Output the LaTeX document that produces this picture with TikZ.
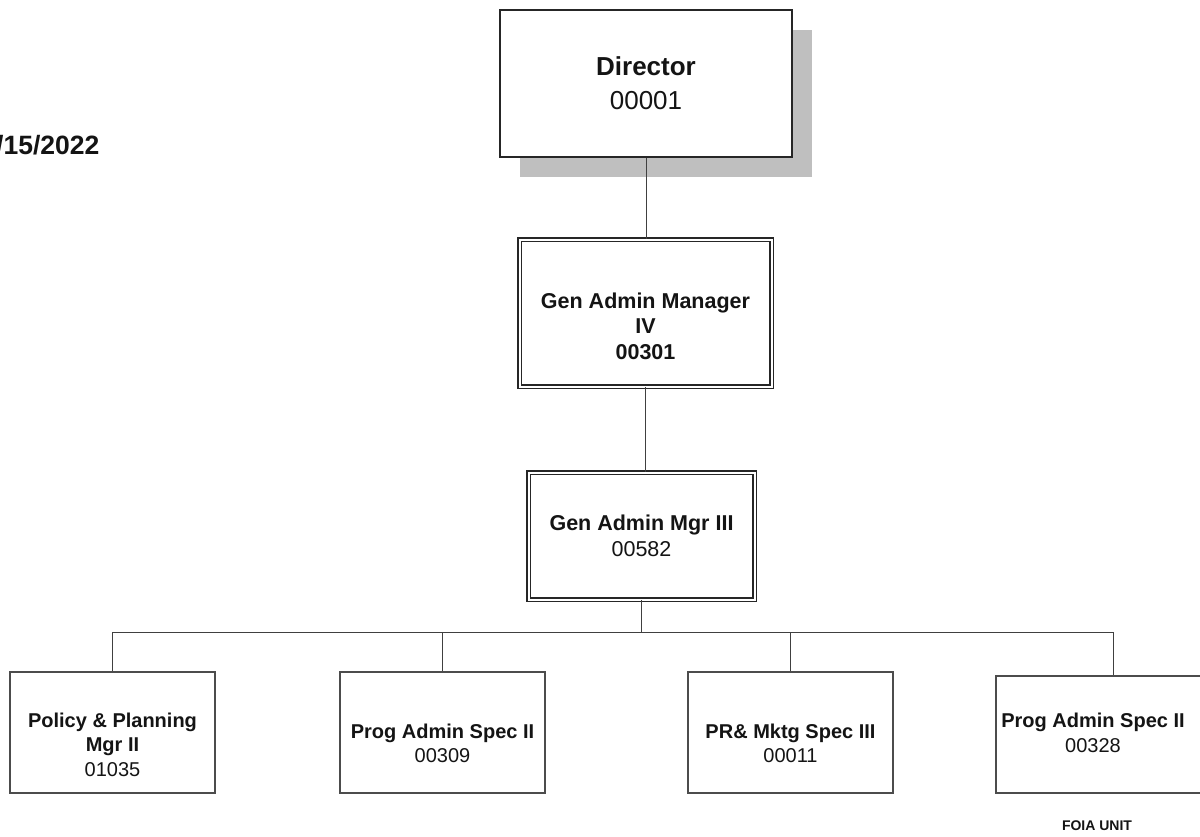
\documentclass[tikz,border=0pt]{standalone}
\usepackage{fontspec}
\setmainfont{Liberation Sans}
\begin{document}
\begin{tikzpicture}[x=1pt,y=-1pt,
  conn/.style={draw=black!75, line width=1pt},
  sbox/.style={draw=black!70, line width=1.2pt, fill=white, rectangle, inner sep=0pt},
  dbox/.style={draw=black!85, double=white, double distance=2pt, line width=1.3pt, rectangle, inner sep=0pt, fill=white},
  big/.style={font=\fontsize{26}{34}\selectfont, align=center, text=black!92},
  mid/.style={font=\fontsize{21.5}{25.5}\selectfont, align=center, text=black!92},
  sml/.style={font=\fontsize{20}{24.5}\selectfont, align=center, text=black!92},
  tiny/.style={font=\fontsize{14}{17}\selectfont\bfseries, text=black!92}
]
\useasboundingbox (0,0) rectangle (1200,836);
\fill[white] (0,0) rectangle (1200,836);

% date
\node[font=\fontsize{26.5}{30}\selectfont\bfseries, text=black!92, anchor=west, inner sep=0pt] (date) at (-4,145) {/15/2022};

% director with shadow
\fill[black!25] (520,30) rectangle (812,177);
\node[sbox, draw=black!85, minimum width=292pt, minimum height=147pt, big] (dir) at (646,83.5) {\textbf{Director}\\00001};

% gen admin manager IV
\node[dbox, minimum width=252pt, minimum height=147pt] (gam4) at (645.5,313) {};
\node[mid, font=\fontsize{21.5}{25.5}\selectfont\bfseries] (t4) at (645.5,326) {Gen Admin Manager\\IV\\00301};

% gen admin mgr III
\node[dbox, minimum width=226pt, minimum height=127pt, mid] (gam3) at (641.5,536) {\textbf{Gen Admin Mgr III}\\00582};

% bottom boxes
\node[sbox, minimum width=205pt, minimum height=121pt] (b1) at (112.5,732.5) {};
\node[sml] (t1) at (112.5,744.5) {\textbf{Policy \& Planning}\\\textbf{Mgr II}\\01035};
\node[sbox, minimum width=205pt, minimum height=121pt] (b2) at (442.5,732.5) {};
\node[sml] (t2) at (442.5,743.5) {\textbf{Prog Admin Spec II}\\00309};
\node[sbox, minimum width=205pt, minimum height=121pt] (b3) at (790.5,732.5) {};
\node[sml] (t3) at (790.5,743.5) {\textbf{PR\& Mktg Spec III}\\00011};
\node[sbox, minimum width=212pt, minimum height=117pt] (b4) at (1102,734.5) {};
\node[sml] (tb4) at (1093,733) {\textbf{Prog Admin Spec II}\\00328};
\node[tiny] (foia) at (1097,826) {FOIA UNIT};

% connectors
\coordinate (bus) at (641.5,632);
\coordinate (busR) at (1113,632);
\draw[conn] (dir.south) -- (dir.south |- gam4.north);
\draw[conn] (gam4.south) -- (gam4.south |- gam3.north);
\draw[conn] (gam3.south) -- (bus);
\draw[conn] (b1.north) |- (busR) -- (busR |- b4.north);
\draw[conn] (b2.north) -- (b2.north |- bus);
\draw[conn] (b3.north) -- (b3.north |- bus);
\end{tikzpicture}
\end{document}
